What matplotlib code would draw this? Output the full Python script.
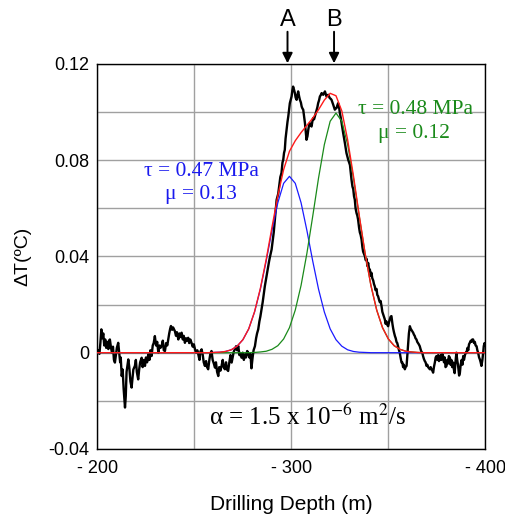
import matplotlib
matplotlib.use('Agg')
import matplotlib.pyplot as plt
from matplotlib.ticker import FixedLocator, FixedFormatter

# Temperatura misurata (traccia nera)
depth = [
    200.0, 200.5, 201.0, 201.5, 202.0, 202.5, 203.0, 203.5, 204.0, 204.5,
    205.0, 205.6, 206.0, 206.4, 207.0, 207.5, 208.0, 208.5, 209.0, 209.5,
    210.0, 210.7, 211.2, 211.7, 212.0, 212.5, 213.0, 213.5, 214.2, 214.6,
    215.0, 215.5, 215.9, 216.4, 217.0, 217.6, 218.0, 218.5, 219.3, 219.8,
    220.3, 221.0, 221.5, 222.0, 222.8, 223.3, 224.0, 224.5, 225.0, 225.6,
    226.2, 226.8, 227.3, 227.9, 228.5, 229.0, 229.6, 230.2, 230.8, 231.4,
    232.0, 232.5, 233.1, 233.7, 234.2, 234.8, 235.4, 236.0, 236.5, 237.0,
    237.5, 237.9, 238.5, 239.0, 239.9, 240.5, 241.0, 241.7, 242.3, 242.8,
    243.4, 244.0, 244.5, 245.1, 245.7, 246.2, 246.8, 247.3, 247.9, 248.5,
    249.1, 249.7, 250.3, 250.9, 251.5, 252.0, 252.6, 253.1, 253.7, 254.3,
    254.8, 255.4, 256.0, 256.5, 257.1, 257.7, 258.2, 258.8, 259.4, 260.0,
    260.6, 261.1, 261.7, 262.3, 262.8, 263.4, 264.0, 264.6, 265.1, 265.7,
    266.3, 266.8, 267.4, 268.0, 268.6, 269.2, 269.7, 270.3, 270.9, 271.5,
    272.0, 272.6, 273.2, 273.5, 274.3, 274.9, 275.5, 276.0, 276.6, 277.2,
    277.7, 278.3, 278.9, 279.4, 280.0, 280.5, 281.2, 281.8, 282.3, 282.9,
    283.5, 284.0, 284.6, 285.2, 285.7, 286.3, 286.8, 287.4, 288.0, 288.5,
    289.0, 289.8, 290.3, 290.9, 291.5, 292.0, 292.4, 293.2, 293.8, 294.3,
    294.9, 295.4, 295.8, 296.2, 296.6, 297.0, 297.5, 298.0, 298.4, 298.8,
    299.2, 299.6, 300.1, 300.5, 300.9, 301.3, 301.8, 302.2, 302.7, 303.1,
    303.5, 304.0, 304.4, 304.9, 305.3, 305.7, 306.1, 306.6, 307.0, 307.4,
    307.8, 308.3, 308.7, 309.1, 309.5, 310.0, 310.4, 310.8, 311.2, 311.7,
    312.1, 312.5, 313.0, 313.4, 313.8, 314.3, 314.7, 315.1, 315.6, 316.0,
    316.4, 316.9, 317.3, 317.7, 318.1, 318.6, 319.0, 319.4, 319.8, 320.3,
    320.7, 321.2, 321.6, 322.0, 322.4, 322.9, 323.3, 323.7, 324.1, 324.6,
    325.0, 325.5, 325.9, 326.3, 326.7, 327.2, 327.6, 328.0, 328.4, 328.9,
    329.3, 329.8, 330.2, 330.6, 331.0, 331.5, 331.9, 332.3, 332.7, 333.1,
    333.6, 334.0, 334.4, 334.9, 335.3, 335.7, 336.2, 336.6, 337.0, 337.5,
    337.9, 338.3, 338.8, 339.2, 339.6, 340.0, 340.5, 340.9, 341.3, 341.7,
    342.2, 342.6, 343.0, 343.4, 343.9, 344.3, 344.7, 345.2, 345.6, 346.0,
    346.5, 346.9, 347.3, 347.7, 348.2, 348.6, 349.0, 349.5, 349.9, 350.3,
    350.8, 351.2, 351.6, 352.1, 352.5, 352.9, 353.4, 353.8, 354.2, 354.6,
    355.0, 355.5, 355.9, 356.3, 356.8, 357.2, 357.6, 358.0, 358.5, 358.9,
    359.4, 359.8, 360.2, 360.6, 361.1, 361.5, 361.9, 362.3, 362.8, 363.2,
    363.6, 364.0, 364.5, 364.9, 365.3, 365.7, 366.2, 366.6, 367.0, 367.5,
    367.9, 368.3, 368.8, 369.2, 369.7, 370.1, 370.5, 371.0, 371.4, 371.8,
    372.3, 372.7, 373.1, 373.5, 374.0, 374.4, 374.8, 375.3, 375.7, 376.1,
    376.5, 377.0, 377.4, 377.8, 378.2, 378.7, 379.1, 379.5, 380.0, 380.4,
    380.8, 381.2, 381.7, 382.1, 382.5, 382.9, 383.4, 383.8, 384.2, 384.6,
    385.1, 385.5, 385.9, 386.5, 386.9, 387.3, 387.8, 388.2, 388.6, 389.0,
    389.5, 389.9, 390.3, 390.8, 391.2, 391.6, 392.0, 392.5, 392.9, 393.3,
    393.7, 394.2, 394.6, 395.0, 395.5, 395.9, 396.3, 396.8, 397.2, 397.6,
    398.0, 398.5, 398.9, 399.2, 399.6, 400.0,
]
dT = [
    0.0000, 0.0010, -0.0005, 0.0040, 0.0097, 0.0060, 0.0080, 0.0030, 0.0055, 0.0020,
    0.0045, 0.0015, 0.0050, 0.0055, 0.0020, 0.0000, 0.0025, -0.0030, -0.0041, -0.0010,
    0.0020, 0.0041, 0.0000, -0.0040, -0.0020, -0.0097, -0.0070, -0.0150, -0.0228, -0.0180,
    -0.0080, -0.0050, -0.0028, -0.0060, -0.0120, -0.0145, -0.0110, -0.0070, -0.0055, -0.0030,
    -0.0080, -0.0111, -0.0070, -0.0040, -0.0021, -0.0060, -0.0030, -0.0055, -0.0020, -0.0040,
    -0.0007, -0.0030, 0.0010, -0.0014, 0.0030, 0.0040, 0.0069, 0.0030, 0.0045, 0.0000,
    0.0030, 0.0020, 0.0028, 0.0050, 0.0010, 0.0007, 0.0040, 0.0030, 0.0055, 0.0080,
    0.0100, 0.0111, 0.0095, 0.0105, 0.0090, 0.0070, 0.0085, 0.0055, 0.0080, 0.0065,
    0.0083, 0.0055, 0.0070, 0.0041, 0.0060, 0.0050, 0.0062, 0.0040, 0.0055, 0.0041,
    0.0025, 0.0035, 0.0014, 0.0000, 0.0010, -0.0007, -0.0030, 0.0005, 0.0014, -0.0010,
    -0.0040, -0.0055, -0.0035, -0.0060, -0.0069, -0.0030, -0.0005, 0.0007, -0.0030, -0.0045,
    -0.0062, -0.0040, -0.0080, -0.0097, -0.0060, -0.0075, -0.0055, -0.0030, -0.0060, -0.0069,
    -0.0040, -0.0070, -0.0076, -0.0040, -0.0010, -0.0041, -0.0020, 0.0005, 0.0014, 0.0027,
    0.0010, 0.0028, -0.0010, -0.0001, -0.0021, 0.0000, -0.0030, -0.0007, -0.0020, 0.0007,
    0.0000, -0.0020, -0.0005, -0.0065, -0.0020, 0.0010, 0.0027, 0.0060, 0.0080, 0.0097,
    0.0130, 0.0150, 0.0180, 0.0210, 0.0240, 0.0276, 0.0300, 0.0330, 0.0360, 0.0380,
    0.0400, 0.0429, 0.0460, 0.0500, 0.0553, 0.0600, 0.0636, 0.0660, 0.0700, 0.0730,
    0.0747, 0.0790, 0.0802, 0.0830, 0.0843, 0.0890, 0.0926, 0.0960, 0.0982, 0.1010,
    0.1037, 0.1050, 0.1065, 0.1090, 0.1106, 0.1095, 0.1079, 0.1060, 0.1051, 0.1070,
    0.1086, 0.1065, 0.1051, 0.1040, 0.1023, 0.1015, 0.1010, 0.0980, 0.0954, 0.0920,
    0.0885, 0.0900, 0.0926, 0.0945, 0.0954, 0.0945, 0.0940, 0.0960, 0.0975, 0.0970,
    0.0982, 0.0995, 0.1010, 0.1020, 0.1037, 0.1050, 0.1065, 0.1070, 0.1079, 0.1075,
    0.1072, 0.1080, 0.1086, 0.1075, 0.1065, 0.1070, 0.1072, 0.1065, 0.1058, 0.1055,
    0.1051, 0.1040, 0.1030, 0.1020, 0.1010, 0.1015, 0.1017, 0.1028, 0.1037, 0.1020,
    0.0996, 0.0975, 0.0954, 0.0935, 0.0913, 0.0890, 0.0871, 0.0850, 0.0830, 0.0815,
    0.0802, 0.0790, 0.0780, 0.0750, 0.0719, 0.0690, 0.0680, 0.0650, 0.0636, 0.0600,
    0.0580, 0.0570, 0.0553, 0.0520, 0.0500, 0.0490, 0.0470, 0.0440, 0.0420, 0.0410,
    0.0401, 0.0385, 0.0390, 0.0360, 0.0373, 0.0350, 0.0345, 0.0320, 0.0332, 0.0310,
    0.0300, 0.0285, 0.0276, 0.0260, 0.0265, 0.0240, 0.0235, 0.0220, 0.0210, 0.0215,
    0.0193, 0.0170, 0.0160, 0.0150, 0.0138, 0.0120, 0.0130, 0.0115, 0.0110, 0.0125,
    0.0140, 0.0150, 0.0152, 0.0120, 0.0100, 0.0085, 0.0069, 0.0060, 0.0045, 0.0040,
    0.0027, 0.0010, 0.0000, -0.0020, -0.0041, -0.0040, -0.0060, -0.0050, -0.0069, -0.0060,
    -0.0055, -0.0010, 0.0040, 0.0080, 0.0110, 0.0100, 0.0095, 0.0090, 0.0083, 0.0075,
    0.0070, 0.0060, 0.0055, 0.0045, 0.0040, 0.0035, 0.0027, 0.0015, 0.0005, 0.0000,
    -0.0014, -0.0025, -0.0035, -0.0040, -0.0055, -0.0050, -0.0060, -0.0065, -0.0069, -0.0060,
    -0.0070, -0.0075, -0.0083, -0.0060, -0.0040, -0.0020, -0.0014, -0.0030, -0.0010, -0.0035,
    -0.0028, -0.0010, -0.0030, -0.0005, -0.0014, -0.0040, -0.0020, -0.0060, -0.0055, -0.0030,
    -0.0045, -0.0014, -0.0020, -0.0050, -0.0030, -0.0060, -0.0041, -0.0070, -0.0085, -0.0040,
    0.0000, -0.0030, -0.0050, -0.0095, -0.0083, -0.0050, -0.0030, -0.0050, -0.0014, -0.0030,
    -0.0010, 0.0000, 0.0000, 0.0020, 0.0010, 0.0035, 0.0041, 0.0050, 0.0045, 0.0055,
    0.0055, 0.0040, 0.0045, 0.0030, 0.0027, 0.0010, 0.0000, -0.0020, -0.0028, -0.0040,
    -0.0055, -0.0030, 0.0000, 0.0027, 0.0040, 0.0030,
]

# Curve del modello (blu, verde, somma rossa)
model_depth = [200, 257, 260, 263, 266, 269, 272, 275, 278, 281, 284, 287, 290, 293,
               296, 299, 302, 305, 308, 311, 314, 317, 320, 323, 326, 329, 332, 335,
               338, 341, 344, 347, 350, 353, 356, 359, 362, 365, 368, 400]
blue_T = [0, 0, 0.0001, 0.0002, 0.0005, 0.0012, 0.0027, 0.0054, 0.0099, 0.0169, 0.0264,
          0.0381, 0.0508, 0.0623, 0.0704, 0.0733, 0.0704, 0.0623, 0.0508, 0.0381, 0.0264,
          0.0169, 0.0099, 0.0054, 0.0027, 0.0012, 0.0005, 0.0002, 0.0001, 0, 0, 0, 0, 0,
          0, 0, 0, 0, 0, 0]
green_T = [0, 0, 0, 0, 0, 0, 0, 0, 0, 0.0001, 0.0003, 0.0006, 0.0014, 0.0029, 0.0057,
           0.0104, 0.0177, 0.0280, 0.0413, 0.0567, 0.0726, 0.0865, 0.0962, 0.0996, 0.0962,
           0.0865, 0.0726, 0.0567, 0.0413, 0.0280, 0.0177, 0.0104, 0.0057, 0.0029, 0.0014,
           0.0006, 0.0003, 0.0001, 0, 0]
red_T = [0, 0, 0.0001, 0.0002, 0.0005, 0.0012, 0.0027, 0.0054, 0.0099, 0.0170, 0.0267,
         0.0387, 0.0522, 0.0652, 0.0761, 0.0837, 0.0881, 0.0915, 0.0945, 0.0975, 0.1010,
         0.1050, 0.1078, 0.1068, 0.1005, 0.0885, 0.0735, 0.0570, 0.0414, 0.0280, 0.0177,
         0.0104, 0.0057, 0.0029, 0.0014, 0.0006, 0.0003, 0.0001, 0, 0]

xtick_vals = [200, 300, 400]
xtick_labels = ['- 200', '- 300', '- 400']
xgrid_minor = [250, 350]
ytick_vals = [-0.04, 0.0, 0.04, 0.08, 0.12]
ytick_labels = ['-0.04', '0', '0.04', '0.08', '0.12']
ygrid_minor = [-0.02, 0.02, 0.06, 0.10]

markers = [('A', 298), ('B', 322)]

sans = ['Liberation Sans', 'DejaVu Sans']
serif = ['Liberation Serif', 'DejaVu Serif']
plt.rcParams['mathtext.fontset'] = 'stix'

fig = plt.figure(figsize=(5.05, 5.16), dpi=100)
ax = fig.add_axes([0.193, 0.130, 0.768, 0.746])

ax.plot(depth, dT, color='black', lw=1.7, zorder=3)
ax.plot(model_depth, blue_T, color='#1a1aff', lw=0.9, zorder=4)
ax.plot(model_depth, green_T, color='#1a8a1a', lw=0.9, zorder=4)
ax.plot(model_depth, red_T, color='#ff1a1a', lw=1.0, zorder=5)

ax.set_xlim(200, 400)
ax.set_ylim(-0.04, 0.12)
ax.xaxis.set_major_locator(FixedLocator(xtick_vals))
ax.xaxis.set_major_formatter(FixedFormatter(xtick_labels))
ax.xaxis.set_minor_locator(FixedLocator(xgrid_minor))
ax.yaxis.set_major_locator(FixedLocator(ytick_vals))
ax.yaxis.set_major_formatter(FixedFormatter(ytick_labels))
ax.yaxis.set_minor_locator(FixedLocator(ygrid_minor))
ax.grid(True, which='both', color='#a0a0a0', lw=1.0, zorder=0)
ax.set_axisbelow(True)
ax.tick_params(which='both', length=0)
ax.tick_params(axis='x', pad=8)
ax.tick_params(axis='y', pad=6)
for lab in ax.get_xticklabels() + ax.get_yticklabels():
    lab.set_family(sans)
    lab.set_fontsize(13)

for sp in ax.spines.values():
    sp.set_linewidth(1.0)

ax.set_xlabel('Drilling Depth (m)', family=sans, fontsize=15, labelpad=13)
ax.set_ylabel('ΔT(ºC)', family=sans, fontsize=14, labelpad=12)

# Etichette del modello
ax.text(253.5, 0.0754, 'τ = 0.47 MPa', family=serif, fontsize=15.5,
        color='#1a1aee', ha='center', va='center')
ax.text(253.5, 0.0657, 'μ = 0.13', family=serif, fontsize=15.5,
        color='#1a1aee', ha='center', va='center')
ax.text(364, 0.1010, 'τ = 0.48 MPa', family=serif, fontsize=15.5,
        color='#1a8a1a', ha='center', va='center')
ax.text(363, 0.0913, 'μ = 0.12', family=serif, fontsize=15.5,
        color='#1a8a1a', ha='center', va='center')
ax.text(308, -0.0268, 'α = 1.5 x 10$^{-6}$ m$^{2}$/s', family=serif,
        fontsize=18, color='black', ha='center', va='center')

# Frecce A e B sopra il grafico
for name, xpos in markers:
    ax.text(xpos, 0.1336, name, family=sans, fontsize=17, ha='center',
            va='bottom', clip_on=False)
    ax.annotate('', xy=(xpos, 0.1203), xytext=(xpos, 0.1334),
                arrowprops=dict(arrowstyle='-|>', color='black', lw=1.4,
                                mutation_scale=15, shrinkA=0, shrinkB=0),
                annotation_clip=False)

fig.savefig('out.png', dpi=100)
